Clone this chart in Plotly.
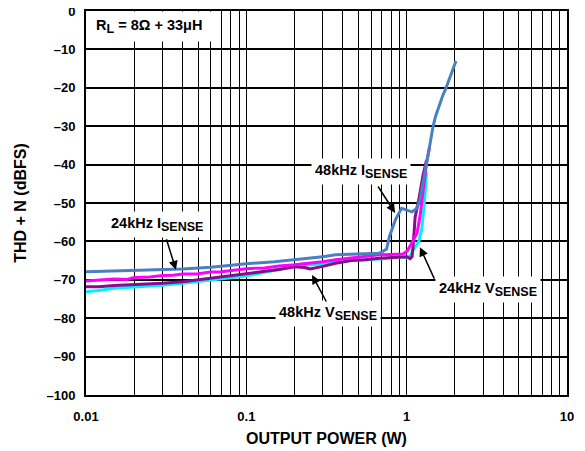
import math
import plotly.graph_objects as go

# 48kHz I_SENSE (blue)
x_48i = [0.01, 0.015, 0.02, 0.03, 0.04, 0.06, 0.08, 0.1, 0.15, 0.2, 0.3, 0.36, 0.5, 0.67, 0.71, 0.75,
         0.78, 0.85, 0.93, 1.0, 1.08, 1.15, 1.21, 1.26, 1.30, 1.35, 1.40, 1.46, 1.52, 1.60, 1.68, 1.75,
         1.85, 1.95, 2.03]
y_48i = [-67.9, -67.7, -67.6, -67.5, -67.2, -66.7, -66.2, -65.8, -65.3, -64.8, -64.0, -63.5, -63.3, -63.1, -62.6, -62.0,
         -58.8, -54.4, -51.4, -51.8, -52.3, -51.5, -49.2, -45.0, -41.4, -38.2, -34.5, -30.1, -27.2, -24.3, -22.0, -20.3,
         -17.6, -15.0, -13.0]

# 24kHz I_SENSE (magenta)
x_24i = [0.01, 0.012, 0.015, 0.018, 0.02, 0.025, 0.03, 0.035, 0.04, 0.05, 0.06, 0.07, 0.08, 0.1, 0.13, 0.16,
         0.2, 0.25, 0.3, 0.36, 0.45, 0.55, 0.67, 0.8, 0.95, 1.01, 1.07, 1.16, 1.21, 1.27, 1.33, 1.39]
y_24i = [-70.3, -70.0, -69.8, -69.9, -69.4, -69.3, -68.9, -68.8, -68.5, -68.4, -68.0, -67.9, -67.6, -67.1, -66.9, -66.4,
         -66.1, -65.7, -65.3, -64.8, -64.3, -64.0, -63.5, -63.4, -63.3, -62.5, -60.5, -57.9, -53.6, -46.6, -39.6, -35.5]

# 48kHz V_SENSE (purple)
x_48v = [0.01, 0.012, 0.015, 0.02, 0.025, 0.03, 0.04, 0.05, 0.06, 0.08, 0.1, 0.13, 0.16, 0.2, 0.23, 0.25,
         0.3, 0.36, 0.45, 0.55, 0.67, 0.8, 0.93, 1.0, 1.05, 1.08, 1.10, 1.13, 1.19, 1.26, 1.33]
y_48v = [-71.8, -71.8, -71.5, -71.3, -71.2, -70.9, -70.5, -70.0, -69.7, -69.0, -68.5, -67.8, -67.3, -66.6, -66.8, -67.2,
         -66.5, -65.7, -65.0, -64.8, -64.4, -64.2, -64.0, -64.0, -64.5, -64.0, -60.5, -53.6, -49.2, -43.1, -38.8]

# 24kHz V_SENSE (cyan)
x_24v = [0.01, 0.012, 0.015, 0.02, 0.03, 0.04, 0.06, 0.08, 0.1, 0.15, 0.2, 0.3, 0.45, 0.67, 0.91, 1.0,
         1.06, 1.10, 1.19, 1.24, 1.29, 1.33]
y_24v = [-73.1, -72.8, -72.2, -71.9, -71.4, -70.9, -70.1, -69.4, -69.0, -67.5, -66.5, -65.8, -65.0, -64.6, -64.1, -64.3,
         -63.5, -62.2, -60.0, -57.0, -50.0, -42.0]

x_ticks = [m * 10 ** e for e in (-2, -1, 0) for m in range(1, 10)] + [10]
x_ticktext = [("0.01" if v == 0.01 else "0.1" if v == 0.1 else "1" if v == 1 else "") for v in x_ticks[:-1]] + ["10"]
y_ticks = list(range(-100, 1, 10))
y_ticktext = [str(v).replace("-", "\u2013") for v in y_ticks]

FONT = "Liberation Sans, Arial, sans-serif"
SUB = "<sub><span style='font-size:12.5px'>%s</span></sub>"

fig = go.Figure()
for xs, ys, color in [(x_24v, y_24v, "#00f0ff"), (x_48v, y_48v, "#8b0a8b"),
                      (x_24i, y_24i, "#ff00ff"), (x_48i, y_48i, "#4b80c0")]:
    fig.add_trace(go.Scatter(x=xs, y=ys, mode="lines", line=dict(color=color, width=3), showlegend=False))

# text labels (white box hides the grid behind); annotation x on a log axis is log10
labels = [
    ("24kHz I" + SUB % "SENSE", 0.0277, -55.5),
    ("48kHz I" + SUB % "SENSE", 0.519, -41.7),
    ("24kHz V" + SUB % "SENSE", 3.22, -72.4),
    ("48kHz V" + SUB % "SENSE", 0.323, -78.9),
]
for text, x, y in labels:
    fig.add_annotation(x=math.log10(x), y=y, xref="x", yref="y", text=text, showarrow=False,
                       bgcolor="white", borderpad=3,
                       font=dict(family=FONT, size=14.5, color="black", weight="bold"))

fig.add_annotation(x=0, y=1, xref="paper", yref="paper", xanchor="left", yanchor="top",
                   text=" R" + SUB % "L" + " = 8Ω + 33μH  ", showarrow=False,
                   bgcolor="white", borderpad=5,
                   font=dict(family=FONT, size=14.5, color="black", weight="bold"))

# arrows: head at (x, y), tail offset in pixels
arrows = [
    (0.0364, -67.4, -10, -32),
    (0.847, -52.6, -18, -28),
    (1.21, -61.5, 15, 33),
    (0.257, -68.75, 15, 28),
]
for x, y, ax, ay in arrows:
    fig.add_annotation(x=math.log10(x), y=y, xref="x", yref="y", text="", showarrow=True,
                       ax=ax, ay=ay, arrowhead=2, arrowsize=1.2, arrowwidth=1.5, arrowcolor="black")

# the page shifts the figure by 8px right and down, margins compensate
fig.update_layout(
    width=585, height=451,
    margin=dict(l=78, r=26, t=3, b=64),
    paper_bgcolor="white", plot_bgcolor="white",
    font=dict(family=FONT, size=13, color="black", weight="bold"),
    xaxis=dict(type="log", range=[-2, 1], tickvals=x_ticks, ticktext=x_ticktext, automargin=False,
               showgrid=True, gridcolor="black", gridwidth=1.3, ticks="", ticklabelstandoff=8,
               ticklabeloverflow="allow",
               showline=True, linecolor="black", linewidth=2, mirror=True, zeroline=False,
               title=dict(text="OUTPUT POWER (W)", standoff=10)),
    yaxis=dict(range=[-100, 0], tickvals=y_ticks, ticktext=y_ticktext, automargin=False,
               showgrid=True, gridcolor="black", gridwidth=1.6, ticks="", ticklabelstandoff=6,
               ticklabeloverflow="allow",
               showline=True, linecolor="black", linewidth=2, mirror=True, zeroline=False,
               title=dict(text="THD + N (dBFS)", standoff=16)),
)

fig.write_html("out.html")
